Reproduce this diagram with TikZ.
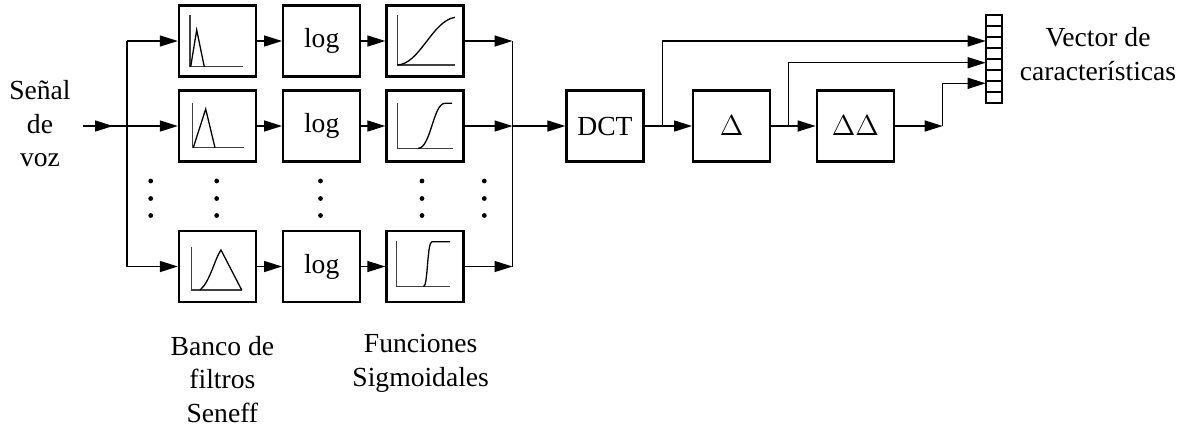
\documentclass[tikz,border=0pt]{standalone}
\usepackage{fontspec}
\setmainfont{Liberation Serif}
\usetikzlibrary{arrows.meta}

\begin{document}
\begin{tikzpicture}[x=0.5pt,y=-0.5pt,
  every node/.style={font=\fontsize{13.8}{16.7}\selectfont, inner sep=0pt},
  block/.style={draw, line width=1.15pt, minimum width=38.5pt, minimum height=35.5pt},
  wire/.style={line width=0.7pt},
  arr/.style={wire, -{Triangle[length=9pt,width=5.5pt]}},
  axis/.style={line width=0.6pt, black!75},
  curve/.style={line width=0.65pt},
  dotmark/.style={fill=black},
  label/.style={align=center, anchor=base},
]
\useasboundingbox (0,0) rectangle (1185,425);

% ---- signal chain blocks ----
\node[block] (f1) at (217.5,41) {};
\node[block] (f2) at (217.5,126) {};
\node[block] (f3) at (217.5,266.5) {};
\node[block] (l1) at (321.7,41) {log};
\node[block] (l2) at (321.7,126) {log};
\node[block] (l3) at (321.7,266.5) {log};
\node[block] (s1) at (425,41) {};
\node[block] (s2) at (425,126) {};
\node[block] (s3) at (425,266.5) {};
\node[block] (dct) at (605,126) {DCT};
\node[block] (d1) at (731.7,126) {$\Delta$};
\node[block] (d2) at (855.3,126) {$\Delta\Delta$};

% ---- feature vector ----
\node[draw, line width=1.1pt, minimum width=8pt, minimum height=44pt] (vec) at (993.7,59) {};
\foreach \k in {1,...,7}
  \draw[line width=0.9pt] (985.7,15+11*\k) -- (1001.7,15+11*\k);

% ---- labels (anchored at the baseline of their last line) ----
\node[label] (lblin) at (40,166.7) {Señal\\de\\voz};
\node[label] (lblbank) at (222.4,422) {Banco de\\filtros\\Seneff};
\node[label] (lblsig) at (420.7,386) {Funciones\\Sigmoidales};
\node[label] (lblvec) at (1098,80) {Vector de\\características};

% ---- input and fan-out ----
\coordinate (inA) at (83,126);
\coordinate (inTip) at (113,126);
\coordinate (split) at (127,126);
\coordinate (bTop) at (127,41);
\coordinate (bBot) at (127,266.5);
\draw[wire] (inA) -- (split);
\draw[arr] (inA) -- (inTip);
\draw[wire] (bTop) -- (bBot);
\draw[arr] (bTop) -- (f1);
\draw[arr] (split) -- (f2);
\draw[arr] (bBot) -- (f3);

% ---- row connections ----
\foreach \r in {1,2,3} {
  \draw[arr] (f\r) -- (l\r);
  \draw[arr] (l\r) -- (s\r);
}

% ---- merge ----
\coordinate (mTop) at (512.5,41);
\coordinate (mBot) at (512.5,266.5);
\draw[wire] (mTop) -- (mBot);
\draw[arr] (s1) -- (mTop);
\draw[arr] (s2) -- (mTop |- s2);
\draw[arr] (s3) -- (mBot);
\draw[arr] (mTop |- dct) -- (dct);

% ---- deltas and taps ----
\coordinate (t1) at (662.3,126);
\coordinate (t2) at (788.7,126);
\coordinate (c3) at (942.7,126);
\coordinate (v1) at (985.7,41);
\coordinate (v2) at (985.7,62.7);
\coordinate (v3) at (985.7,83.3);
\draw[arr] (dct) -- (d1);
\draw[arr] (d1) -- (d2);
\draw[arr] (d2) -- (c3);
\draw[arr] (t1) |- (v1);
\draw[arr] (t2) |- (v2);
\draw[arr] (c3) |- (v3);

% ---- ellipsis dots ----
\foreach \x in {150.7,216.7,320.5,422,484.3}
  \foreach \y in {181,198.5,215.5}
    \fill[dotmark] (\x,\y) circle[radius=1.2pt];

% ---- filter responses ----
\draw[axis] (190,15) -- (190,66.7) -- (243.3,66.7);
\draw[curve] (190.7,66.7) -- (196.7,30) -- (204.3,66.7);
\draw[axis] (192.3,102.7) -- (192.3,147.7) -- (244,147.7);
\draw[curve] (193.3,147.7) -- (205.7,109) -- (215,147.7);
\draw[axis] (191.7,246.7) -- (191.7,290) -- (241.7,290);
\draw[curve] (200,290) .. controls (210,282) and (215,258) .. (221,250) -- (241.7,290);

% ---- sigmoid responses ----
\draw[axis] (397.3,15) -- (397.3,65) -- (455,65);
\draw[curve] (397.3,65) .. controls (420,64) and (432,21) .. (455,17.3);
\draw[axis] (397.3,102.7) -- (397.3,148.3) -- (452.7,148.3);
\draw[curve] (418,148.3) .. controls (431,148.3) and (433,103.3) .. (445,103.3) -- (452,103.3);
\draw[axis] (396.7,241) -- (396.7,286.7) -- (450,286.7);
\draw[curve] (423.5,286.7) .. controls (428,286.7) and (427,241.7) .. (432,241.7) -- (450,241.7);
\end{tikzpicture}
\end{document}
